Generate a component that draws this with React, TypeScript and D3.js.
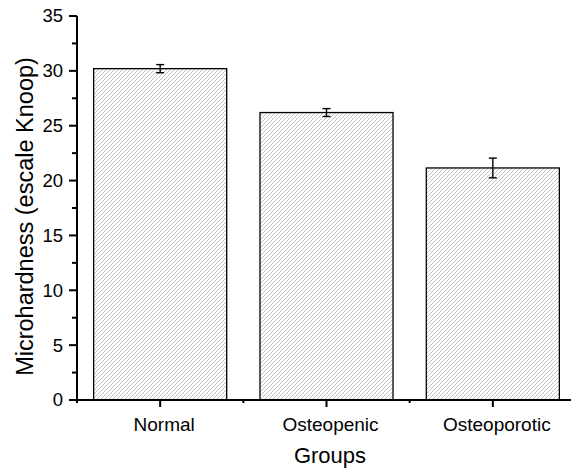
import React from "react";
import * as d3 from "d3";

const groups = ["Normal", "Osteopenic", "Osteoporotic"];
const hardness = [30.2, 26.2, 21.15];
const errors = [0.37, 0.36, 0.9];
const yTicks = [0, 5, 10, 15, 20, 25, 30, 35];

const W = 571;
const H = 469;
const m = { left: 77, top: 16, bottom: 69 };
const font = "Liberation Sans, Arial, sans-serif";

const App = () => {
  const x = d3
    .scaleBand<string>()
    .domain(groups)
    .range([m.left, 576])
    .paddingInner(0.2)
    .paddingOuter(0.1);
  const y = d3
    .scaleLinear()
    .domain([0, 35])
    .range([H - m.bottom, m.top]);
  const y0 = y(0);
  const minorY = d3.range(2.5, 35, 5);
  const step = x.step();
  const bandEdges = groups.map((g) => (x(g) as number) - step * 0.1);

  return (
    <svg
      width={W}
      height={H}
      style={{ position: "absolute", left: 0, top: 0, background: "#fff" }}
      fontFamily={font}
    >
      <defs>
        <pattern id="hatch" width="4" height="4" patternUnits="userSpaceOnUse">
          <rect width="4" height="4" fill="#fff" />
          <path
            d="M-1,1 L1,-1 M0,4 L4,0 M3,5 L5,3"
            stroke="#a0a0a0"
            strokeWidth="0.65"
          />
        </pattern>
      </defs>

      {groups.map((g, i) => {
        const bx = x(g) as number;
        const cx = bx + x.bandwidth() / 2;
        const top = y(hardness[i]);
        const e1 = y(hardness[i] + errors[i]);
        const e2 = y(hardness[i] - errors[i]);
        return (
          <g key={g}>
            <rect
              x={bx}
              y={top}
              width={x.bandwidth()}
              height={y0 - top}
              fill="url(#hatch)"
              stroke="#000"
              strokeWidth={1.3}
            />
            <g stroke="#000" strokeWidth={1.4}>
              <line x1={cx} x2={cx} y1={e1} y2={e2} />
              <line x1={cx - 4} x2={cx + 4} y1={e1} y2={e1} />
              <line x1={cx - 4} x2={cx + 4} y1={e2} y2={e2} />
            </g>
          </g>
        );
      })}

      {/* y axis */}
      <g stroke="#000" strokeWidth={2}>
        <line x1={m.left} x2={m.left} y1={m.top} y2={y0 + 1} />
        {yTicks.map((t) => (
          <line key={t} x1={m.left - 8} x2={m.left} y1={y(t)} y2={y(t)} />
        ))}
        {minorY.map((t) => (
          <line key={t} x1={m.left - 5} x2={m.left} y1={y(t)} y2={y(t)} />
        ))}
      </g>
      {yTicks.map((t) => (
        <text
          key={t}
          x={m.left - 14}
          y={y(t)}
          dy="0.35em"
          textAnchor="end"
          fontSize={18.5}
        >
          {t}
        </text>
      ))}

      {/* x axis */}
      <g stroke="#000" strokeWidth={2}>
        <line x1={m.left - 1} x2={W} y1={y0} y2={y0} />
        {groups.map((g) => {
          const cx = (x(g) as number) + x.bandwidth() / 2;
          return <line key={g} x1={cx} x2={cx} y1={y0} y2={y0 + 7} />;
        })}
        {bandEdges.map((e, i) => (
          <line key={i} x1={e} x2={e} y1={y0} y2={y0 + 3} />
        ))}
      </g>
      {groups.map((g) => (
        <text
          key={g}
          x={(x(g) as number) + x.bandwidth() / 2 + 4}
          y={431}
          textAnchor="middle"
          fontSize={19}
        >
          {g}
        </text>
      ))}

      <text x={330} y={463} textAnchor="middle" fontSize={22}>
        Groups
      </text>
      <text
        transform={`translate(33, 216.5) rotate(-90)`}
        textAnchor="middle"
        fontSize={23.5}
      >
        Microhardness (escale Knoop)
      </text>
    </svg>
  );
};

export default App;
